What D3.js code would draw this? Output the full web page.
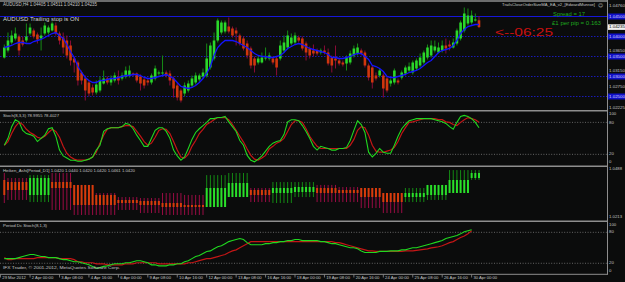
<!DOCTYPE html>
<html><head><meta charset="utf-8">
<script src="https://cdn.jsdelivr.net/npm/d3@7"></script>
<style>html,body{margin:0;padding:0;background:#0b0c0c;overflow:hidden}svg{display:block}</style>
</head><body><svg id="c" width="625" height="282"></svg>
<script>
// ---------- DATA ----------
const timeLabels = ["29 Mar 2012","2 Apr 00:00","3 Apr 08:00","4 Apr 16:00","6 Apr 00:00","9 Apr 08:00","10 Apr 16:00","12 Apr 00:00","13 Apr 08:00","16 Apr 16:00","18 Apr 00:00","19 Apr 08:00","20 Apr 16:00","24 Apr 00:00","25 Apr 08:00","26 Apr 16:00","30 Apr 00:00"];
const timeLabelIdx = [0,7,15,23,31,39,47,55,63,71,79,87,95,103,111,119,127];

const open = [1.03475,1.03650,1.03850,1.03950,1.04000,1.03900,1.03900,1.04075,1.04150,1.04050,
1.03950,1.04075,1.04100,1.04150,1.04275,1.04075,1.03975,1.03900,1.03775,1.03450,
1.03350,1.03100,1.02950,1.02850,1.02725,1.02600,1.02650,1.02825,1.02950,1.02850,
1.02900,1.03000,1.02950,1.03000,1.03025,1.03075,1.03075,1.03000,1.02925,1.02900,
1.02850,1.02950,1.03075,1.03075,1.03100,1.03075,1.02950,1.02775,1.02650,1.02575,
1.02650,1.02775,1.02850,1.02925,1.03000,1.03025,1.03225,1.03450,1.03900,1.04100,
1.04125,1.04250,1.04200,1.04150,1.04025,1.03950,1.03825,1.03700,1.03450,1.03350,
1.03350,1.03450,1.03450,1.03450,1.03450,1.03450,1.03650,1.03725,1.03825,1.03850,
1.03975,1.03950,1.03825,1.03700,1.03650,1.03650,1.03600,1.03650,1.03600,1.03475,
1.03450,1.03400,1.03350,1.03325,1.03350,1.03525,1.03575,1.03650,1.03600,1.03275,
1.03225,1.03025,1.03025,1.03025,1.02950,1.02825,1.02850,1.02900,1.02975,1.03075,
1.03150,1.03100,1.03200,1.03275,1.03350,1.03475,1.03525,1.03650,1.03600,1.03650,
1.03775,1.03800,1.03725,1.03825,1.03950,1.04150,1.04325,1.04350,1.04400,1.04405];
const high = [1.03800,1.04100,1.04150,1.04225,1.04050,1.04000,1.04325,1.04325,1.04200,1.04100,
1.04225,1.04350,1.04275,1.04375,1.04350,1.04125,1.04100,1.04025,1.03900,1.03500,
1.03400,1.03150,1.03025,1.02900,1.02800,1.02900,1.03000,1.03150,1.03000,1.03025,
1.03100,1.03150,1.03100,1.03250,1.03275,1.03100,1.03100,1.03050,1.02975,1.02950,
1.03075,1.03275,1.03150,1.03525,1.03150,1.03150,1.03000,1.02850,1.02700,1.02850,
1.02900,1.03025,1.03100,1.03075,1.03200,1.03825,1.03850,1.04100,1.04450,1.04400,
1.04400,1.04475,1.04250,1.04225,1.04075,1.04000,1.03900,1.03750,1.03500,1.03525,
1.03600,1.03725,1.03600,1.03500,1.03500,1.03900,1.04025,1.04150,1.04075,1.04100,
1.04025,1.04000,1.03875,1.03750,1.03800,1.03700,1.03700,1.03775,1.03700,1.03525,
1.03775,1.03450,1.03400,1.03525,1.03650,1.03775,1.03825,1.03700,1.03650,1.03325,
1.03275,1.03100,1.03200,1.03075,1.03000,1.02950,1.03200,1.02950,1.03150,1.03275,
1.03350,1.03400,1.03450,1.03575,1.03650,1.03800,1.03900,1.03900,1.03850,1.03900,
1.03950,1.03900,1.03950,1.04200,1.04400,1.04725,1.04700,1.04650,1.04575,1.04511];
const low = [1.03450,1.03600,1.03800,1.03900,1.03525,1.03750,1.03850,1.04025,1.03950,1.03825,
1.03650,1.04025,1.04050,1.04125,1.04025,1.03800,1.03575,1.03450,1.03275,1.03100,
1.02775,1.02800,1.02400,1.02500,1.02525,1.02550,1.02600,1.02800,1.02800,1.02775,
1.02850,1.02800,1.02900,1.02950,1.02975,1.03000,1.02850,1.02650,1.02700,1.02775,
1.02800,1.02900,1.03025,1.03025,1.02975,1.02775,1.02475,1.02400,1.02350,1.02500,
1.02600,1.02725,1.02800,1.02875,1.02950,1.02975,1.03175,1.03400,1.03850,1.04050,
1.04075,1.04075,1.03975,1.03775,1.03775,1.03650,1.03450,1.03200,1.03100,1.03300,
1.03325,1.03400,1.03400,1.03300,1.03025,1.03400,1.03600,1.03675,1.03775,1.03800,
1.03850,1.03650,1.03400,1.03450,1.03500,1.03525,1.03550,1.03550,1.03275,1.03100,
1.03200,1.03275,1.03250,1.03150,1.03300,1.03475,1.03525,1.03525,1.03225,1.02900,
1.02700,1.02900,1.02975,1.02475,1.02600,1.02750,1.02800,1.02800,1.02925,1.03025,
1.03100,1.03050,1.03150,1.03225,1.03300,1.03425,1.03475,1.03600,1.03575,1.03600,
1.03575,1.03650,1.03700,1.03775,1.03900,1.04100,1.04275,1.04300,1.04375,1.04210];
const close = [1.03725,1.03900,1.04025,1.04075,1.03650,1.03800,1.04000,1.04225,1.04000,1.03925,
1.04025,1.04275,1.04225,1.04325,1.04075,1.03900,1.03725,1.03525,1.03400,1.03350,
1.02900,1.02900,1.02650,1.02575,1.02600,1.02800,1.02900,1.02950,1.02850,1.02950,
1.03025,1.02900,1.03025,1.03150,1.03150,1.03050,1.02900,1.02825,1.02775,1.02850,
1.03025,1.03200,1.03100,1.03100,1.03025,1.02900,1.02700,1.02475,1.02400,1.02775,
1.02825,1.02950,1.03025,1.03025,1.03100,1.03450,1.03775,1.03900,1.04400,1.04350,
1.04350,1.04125,1.04025,1.04075,1.03825,1.03700,1.03525,1.03275,1.03275,1.03450,
1.03475,1.03475,1.03525,1.03350,1.03225,1.03775,1.03850,1.04025,1.03975,1.04025,
1.03900,1.03700,1.03600,1.03525,1.03575,1.03575,1.03650,1.03600,1.03325,1.03275,
1.03400,1.03325,1.03300,1.03475,1.03575,1.03700,1.03725,1.03575,1.03275,1.02975,
1.02850,1.02950,1.03150,1.02700,1.02650,1.02900,1.03150,1.02850,1.03100,1.03225,
1.03250,1.03350,1.03400,1.03475,1.03600,1.03725,1.03775,1.03750,1.03725,1.03775,
1.03700,1.03750,1.03850,1.04150,1.04350,1.04575,1.04525,1.04525,1.04425,1.04235];
const maLine = [1.03725,1.03750,1.03775,1.03825,1.03850,1.03850,1.03825,1.03825,1.03875,1.03900,
1.03925,1.03975,1.04025,1.04075,1.04100,1.04025,1.03950,1.03800,1.03625,1.03475,
1.03250,1.03100,1.02975,1.02900,1.02850,1.02850,1.02900,1.02900,1.02925,1.02950,
1.02950,1.02975,1.03000,1.03025,1.03025,1.03050,1.03050,1.03025,1.02975,1.02950,
1.02950,1.02975,1.03000,1.03025,1.03050,1.03000,1.02950,1.02850,1.02750,1.02725,
1.02700,1.02725,1.02775,1.02850,1.02950,1.03075,1.03250,1.03525,1.03725,1.03825,
1.03900,1.03900,1.03900,1.03875,1.03825,1.03775,1.03725,1.03650,1.03575,1.03525,
1.03500,1.03500,1.03475,1.03475,1.03500,1.03525,1.03600,1.03700,1.03750,1.03800,
1.03825,1.03800,1.03750,1.03700,1.03675,1.03650,1.03625,1.03600,1.03550,1.03475,
1.03475,1.03450,1.03450,1.03475,1.03500,1.03550,1.03575,1.03575,1.03500,1.03425,
1.03275,1.03250,1.03200,1.03125,1.03000,1.02975,1.02975,1.03000,1.03025,1.03050,
1.03100,1.03125,1.03150,1.03200,1.03275,1.03350,1.03400,1.03500,1.03600,1.03650,
1.03675,1.03700,1.03775,1.03900,1.04075,1.04175,1.04250,1.04275,1.04300,1.04300];

const stochMain = [37,50,72,85,81,65,59,57,54,44, 50,56,68,70,54,28,17,13,9,9,
7,7,9,11,15,28,37,63,68,70, 70,70,72,78,76,68,56,46,35,35,
50,65,70,70,63,50,28,17,9,15, 31,48,61,68,74,80,87,87,89,89,
91,81,72,63,46,37,18,9,6,11, 17,26,35,41,44,46,57,81,85,85,
83,74,63,50,35,28,35,33,31,28, 28,31,31,33,46,65,83,76,61,24,
15,22,31,24,22,22,37,54,68,76, 83,85,87,87,87,87,87,85,83,81,
78,72,67,80,91,93,91,87,80,70];
const stochSignal = [37,44,59,72,80,76,67,61,57,52, 50,54,61,67,63,52,35,22,15,11,
9,9,9,11,15,24,41,56,67,70, 70,70,72,74,74,72,63,54,44,37,
41,52,65,68,67,59,44,28,15,13, 20,35,46,59,67,76,80,85,89,89,
89,85,76,65,54,43,30,18,11,9, 13,18,30,35,41,44,50,63,76,83,
83,80,68,54,44,35,31,31,31,31, 31,31,31,31,37,48,65,72,70,56,
37,26,24,24,26,28,33,44,59,70, 80,81,83,85,87,87,87,87,85,85,
81,80,76,74,80,85,89,87,85,80];

// Heiken Ashi (daily, drawn on every H4 bar of that day)
const haDays  = ["29 Mar","30 Mar","2 Apr","3 Apr","4 Apr","5 Apr","6 Apr","9 Apr","10 Apr","11 Apr","12 Apr","13 Apr","16 Apr","17 Apr","18 Apr","19 Apr","20 Apr","23 Apr","24 Apr","25 Apr","26 Apr","27 Apr","30 Apr"];
const haStart = [0,1,7,13,19,25,31,37,43,49,55,61,67,73,79,85,91,97,103,109,115,121,127];
const haBars  = [1,6,6,6,6,6,6,6,6,6,6,6,6,6,6,6,6,6,6,6,6,6,3];
const haOpen  = [1.0421,1.0410,1.0343,1.0410,1.0395,1.0343,1.0317,1.0312,1.0301,1.0291,1.0280,1.0332,1.0369,1.0353,1.0358,1.0379,1.0369,1.0379,1.0353,1.0332,1.0343,1.0353,1.0431];
const haHigh  = [1.0457,1.0431,1.0446,1.0457,1.0395,1.0353,1.0332,1.0327,1.0353,1.0343,1.0446,1.0457,1.0379,1.0410,1.0410,1.0395,1.0384,1.0379,1.0353,1.0379,1.0395,1.0472,1.0472];
const haLow   = [1.0301,1.0317,1.0306,1.0265,1.0239,1.0239,1.0265,1.0249,1.0239,1.0239,1.0280,1.0332,1.0306,1.0301,1.0332,1.0306,1.0306,1.0275,1.0249,1.0306,1.0317,1.0353,1.0421];
const haClose = [1.0343,1.0369,1.0431,1.0379,1.0291,1.0291,1.0301,1.0291,1.0280,1.0280,1.0379,1.0405,1.0343,1.0379,1.0384,1.0353,1.0353,1.0332,1.0306,1.0353,1.0395,1.0421,1.0457];

const dcMain = [29,29,29,29,31,33,35,37,37,35, 33,33,31,31,31,29,27,27,25,23,
23,21,19,17,14,10,12,14,15,17, 19,19,19,21,21,23,25,25,23,21,
17,17,15,15,15,17,17,19,19,23, 25,29,33,35,39,43,44,48,52,54,
58,62,64,66,68,66,60,56,56,56, 56,58,58,60,60,62,62,64,64,66,
66,64,64,64,64,64,62,62,60,58, 58,56,54,52,50,50,48,44,41,41,
41,41,43,43,43,44,44,44,46,46, 48,50,50,52,54,56,58,60,62,64,
68,70,72,74,77,81,83,85];
const dcSignal = [31,27,27,29,29,29,29,29,29,31, 31,31,31,31,31,29,29,29,29,27,
23,23,21,21,21,19,19,19,17,17, 17,17,17,19,19,19,21,21,21,21,
21,21,19,19,19,19,19,19,19,19, 21,21,23,25,27,29,29,31,33,35,
37,41,44,46,50,54,58,62,62,62, 62,62,62,62,62,62,62,62,62,62,
62,62,62,62,62,62,62,62,62,62, 60,60,58,56,54,52,50,48,46,44,
44,43,43,43,43,43,43,43,43,44, 44,44,45,46,47,48,50,51,52,54,
57,60,62,66,70,73,77,83];

const priceAxisLabels = ["1.04760","1.03650","1.03150","1.02750","1.02225"];
const levelPrices = [1.0450,1.0400,1.0350,1.0300,1.0250];
const levelLabels = ["1.04500","1.04000","1.03500","1.03000","1.02500"];
const bidPrice = 1.04235;
const stochTicks = [100,80,20,0];
const stochLevels = [80,20];
const haAxisLabels = ["1.0488","1.0213"];

// ---------- DRAW ----------
const W = 625, H = 282, plotR = 607;
const F = "'Liberation Sans', Arial, sans-serif";
const svg = d3.select("#c");
svg.append("rect").attr("width", W).attr("height", H).attr("fill", "#0b0c0c");

const x = d3.scaleLinear().domain([0, open.length - 1]).range([4.3, 479]);
const yP = d3.scaleLinear().domain([1.0215, 1.0490]).range([110.5, 0.5]);
const yS = d3.scaleLinear().domain([0, 100]).range([165, 111.7]);
const yH = d3.scaleLinear().domain([1.0213, 1.0488]).range([220, 167]);
const yD = d3.scaleLinear().domain([0, 100]).range([273.6, 222]);

const defs = svg.append("defs");
function clip(id, y0, y1) {
  defs.append("clipPath").attr("id", id).append("rect").attr("x", 0).attr("y", y0).attr("width", plotR).attr("height", y1 - y0);
  return svg.append("g").attr("clip-path", `url(#${id})`);
}
function txt(g, xx, yy, s, size, fill, len, anchor) {
  const t = g.append("text").attr("x", xx).attr("y", yy).text(s)
    .attr("font-family", F).attr("font-size", size).attr("fill", fill)
    .attr("dominant-baseline", "middle").attr("text-anchor", anchor || "start");
  if (len) t.attr("textLength", len).attr("lengthAdjust", "spacingAndGlyphs");
  return t;
}

// ----- price panel -----
const gP = clip("cp", 1, 110);
levelPrices.forEach((p, i) => {
  gP.append("line").attr("x1", 0).attr("x2", plotR).attr("y1", yP(p)).attr("y2", yP(p))
    .attr("stroke", i === 0 ? "#1616d8" : "#1a1ab8").attr("stroke-width", 1)
    .attr("stroke-dasharray", i === 0 ? null : "1.5,1.5");
});
const idx = d3.range(open.length);
gP.selectAll("line.wick").data(idx).join("line").attr("class", "wick")
  .attr("x1", i => x(i)).attr("x2", i => x(i))
  .attr("y1", i => yP(high[i])).attr("y2", i => yP(low[i]))
  .attr("stroke", i => close[i] >= open[i] ? "#168c16" : "#8c0c38").attr("stroke-width", 1);
gP.selectAll("rect.body").data(idx).join("rect").attr("class", "body")
  .attr("x", i => x(i) - 1.3).attr("width", 2.6)
  .attr("y", i => yP(Math.max(open[i], close[i])))
  .attr("height", i => Math.max(1, Math.abs(yP(open[i]) - yP(close[i]))))
  .attr("fill", i => close[i] >= open[i] ? "#2ad82a" : "#d0360e");
gP.append("path").datum(maLine)
  .attr("d", d3.line().x((d, i) => x(i)).y(d => yP(d)))
  .attr("fill", "none").attr("stroke", "#1414ff").attr("stroke-width", 1.3);

txt(svg, 3, 5.2, "AUDUSD,H4 1.04405 1.04511 1.04210 1.04235", 4.6, "#c4c4c4", 94);
txt(svg, 3, 19.3, "AUDUSD Trailing stop is ON", 5.8, "#d4d4d4", 76);
txt(svg, 502, 5.2, "TrailsCloseOrderSizeMA_EA_v2_[EdwardMunroe]", 4.3, "#c4c4c4", 93);
txt(svg, 600.5, 5.2, "\u263A", 5, "#d8d8d8", null, "middle").attr("font-family", "DejaVu Sans");
txt(svg, 553, 14.3, "Spread = 17", 4.8, "#1fa81f", 32);
txt(svg, 552, 23.5, "\u00A31 per pip = 0.163", 4.8, "#1fa81f", 49);
txt(svg, 495, 33.3, "<--06:25", 11.5, "#c81010", 58);

// ----- stoch panel -----
const gS = clip("cs", 111.5, 165.5);
stochLevels.forEach(v => {
  gS.append("line").attr("x1", 0).attr("x2", plotR).attr("y1", yS(v)).attr("y2", yS(v))
    .attr("stroke", "#7c7c7c").attr("stroke-width", 0.8).attr("stroke-dasharray", "1,1.6");
});
const lineS = d3.line().x((d, i) => x(i)).y(d => yS(d));
gS.append("path").datum(stochSignal).attr("d", lineS).attr("fill", "none").attr("stroke", "#c41616").attr("stroke-width", 1.2);
gS.append("path").datum(stochMain).attr("d", lineS).attr("fill", "none").attr("stroke", "#20d820").attr("stroke-width", 1.1);
txt(svg, 3, 115.8, "Stoch(8,3,3) 78.9955 78.4027", 4.3, "#c4c4c4", 56);

// ----- heiken ashi panel -----
const gH = clip("ch", 167, 220.5);
const haBarIdx = [];
haStart.forEach((s, d) => { for (let k = 0; k < haBars[d]; k++) haBarIdx.push({ i: s + k, d }); });
gH.selectAll("line.hw").data(haBarIdx).join("line").attr("class", "hw")
  .attr("x1", b => x(b.i)).attr("x2", b => x(b.i))
  .attr("y1", b => yH(haHigh[b.d])).attr("y2", b => yH(haLow[b.d]))
  .attr("stroke", b => haClose[b.d] >= haOpen[b.d] ? "#148a14" : "#9a0c44").attr("stroke-width", 1);
gH.selectAll("line.hb").data(haBarIdx).join("line").attr("class", "hb")
  .attr("x1", b => x(b.i)).attr("x2", b => x(b.i))
  .attr("y1", b => yH(haOpen[b.d])).attr("y2", b => yH(haClose[b.d]))
  .attr("stroke", b => haClose[b.d] >= haOpen[b.d] ? "#2ae02a" : "#d83c0c").attr("stroke-width", 2);
txt(svg, 3, 170.8, "Heiken_Ashi[Period_D1] 1.0420 1.0440 1.0420 1.0420 1.0461 1.0420", 4.3, "#c4c4c4", 132);

// ----- Dc stoch panel -----
const gD = clip("cd", 222, 273.5);
stochLevels.forEach(v => {
  gD.append("line").attr("x1", 0).attr("x2", plotR).attr("y1", yD(v)).attr("y2", yD(v))
    .attr("stroke", "#7c7c7c").attr("stroke-width", 0.8).attr("stroke-dasharray", "1,1.6");
});
const lineD = d3.line().x((d, i) => x(i)).y(d => yD(d));
gD.append("path").datum(dcSignal).attr("d", lineD).attr("fill", "none").attr("stroke", "#c41616").attr("stroke-width", 1.2);
gD.append("path").datum(dcMain).attr("d", lineD).attr("fill", "none").attr("stroke", "#20d820").attr("stroke-width", 1.1);
txt(svg, 3, 226.2, "Period Dc Stoch(8,1,3)", 4.3, "#c4c4c4", 44);
txt(svg, 3, 268.3, "IFX Trader, \u00A9 2001-2012, MetaQuotes Software Corp.", 4.4, "#c4c4c4", 117);

// ----- frame / separators -----
const gray = "#8e8e8e";
[1, 110.8, 166.2, 221.3].forEach(yy => {
  svg.append("line").attr("x1", 0).attr("x2", plotR).attr("y1", yy).attr("y2", yy).attr("stroke", gray).attr("stroke-width", 1.4);
});
svg.append("line").attr("x1", 0).attr("x2", plotR + 0.5).attr("y1", 274.3).attr("y2", 274.3).attr("stroke", gray).attr("stroke-width", 1);
svg.append("line").attr("x1", plotR + 0.5).attr("x2", plotR + 0.5).attr("y1", 0).attr("y2", 274.8).attr("stroke", gray).attr("stroke-width", 1);

// ----- right axis -----
const ax = plotR + 2;
priceAxisLabels.forEach(s => txt(svg, ax, yP(+s), s, 4.3, "#c4c4c4", 16));
levelPrices.forEach((p, i) => {
  svg.append("rect").attr("x", plotR + 1).attr("y", yP(p) - 3).attr("width", W - plotR - 1).attr("height", 6).attr("fill", "#1010c8");
  txt(svg, ax, yP(p), levelLabels[i], 4.3, "#d8d8ff", 16);
});
svg.append("rect").attr("x", plotR + 1).attr("y", yP(bidPrice) - 2.8).attr("width", W - plotR - 1).attr("height", 5.6).attr("fill", "#f0f0f0");
txt(svg, ax, yP(bidPrice), "1.04235", 4.3, "#000", 16);

stochTicks.forEach(v => txt(svg, ax, v === 100 ? 114.3 : v === 0 ? 162.3 : yS(v), String(v), 4.3, "#c4c4c4"));
txt(svg, ax, 169.3, haAxisLabels[0], 4.3, "#c4c4c4", 13);
txt(svg, ax, 217.3, haAxisLabels[1], 4.3, "#c4c4c4", 13);
stochTicks.forEach(v => txt(svg, ax, v === 100 ? 225 : v === 0 ? 270.7 : yD(v), String(v), 4.3, "#c4c4c4"));

// ----- time axis -----
timeLabelIdx.forEach((ti, k) => {
  const xx = k === 0 ? 0.5 : x(ti);
  svg.append("line").attr("x1", xx).attr("x2", xx).attr("y1", 274.5).attr("y2", 277.5).attr("stroke", gray).attr("stroke-width", 0.8);
  txt(svg, xx + 1.8, 278, timeLabels[k], 4.2, "#c4c4c4");
});
</script>
</body></html>
